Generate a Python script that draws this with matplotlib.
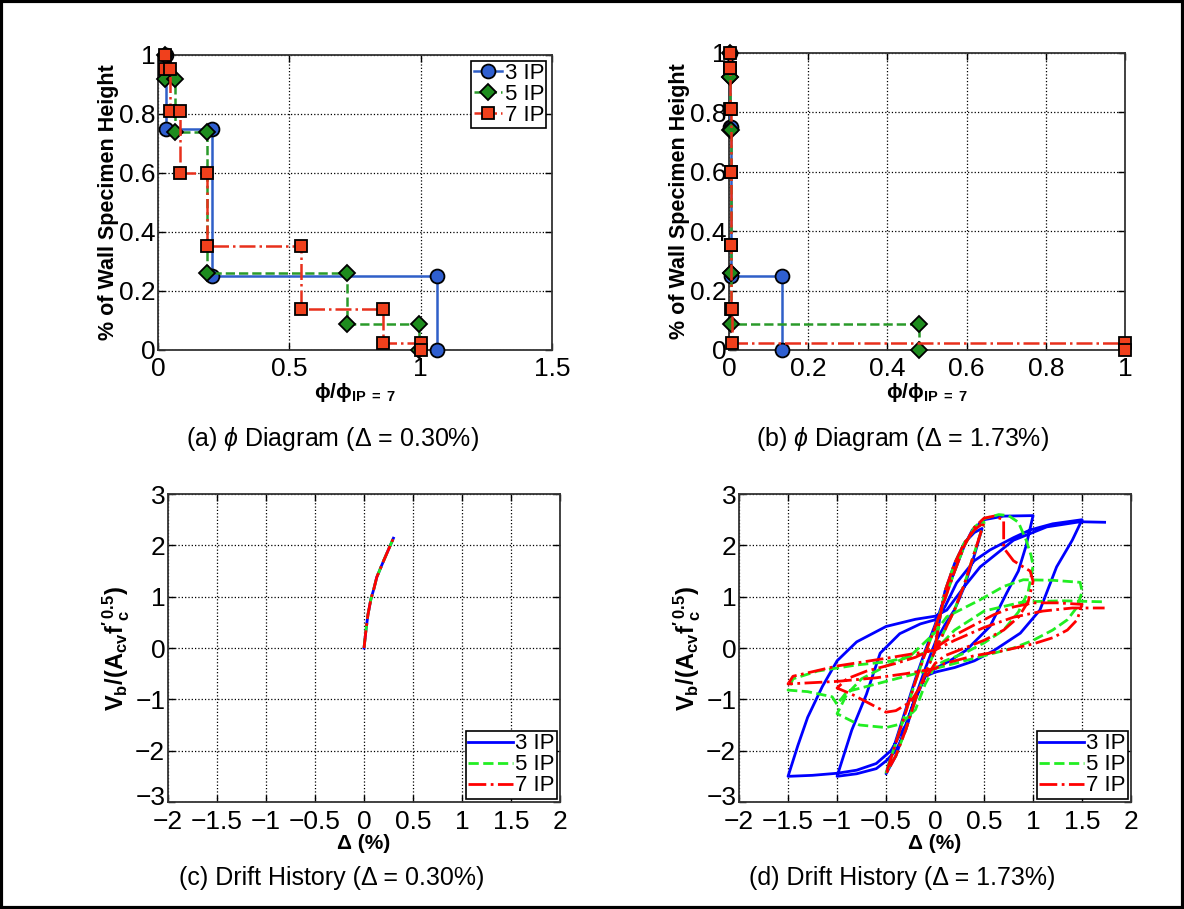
import matplotlib
matplotlib.use('Agg')
import matplotlib.pyplot as plt
import matplotlib.transforms as mtransforms
from matplotlib.patches import Rectangle

plt.rcParams['font.family'] = ['Liberation Sans', 'DejaVu Sans']
plt.rcParams['mathtext.fontset'] = 'custom'
plt.rcParams['mathtext.rm'] = 'Liberation Sans'
plt.rcParams['mathtext.it'] = 'Liberation Sans:italic'
plt.rcParams['mathtext.bf'] = 'Liberation Sans:bold'

labels = ['3 IP', '5 IP', '7 IP']

# curvature profile: segment boundaries (height) and normalised curvature per segment
heights_3 = [1.0, 0.75, 0.25, 0.0]
heights_5 = [1.0, 0.918, 0.74, 0.26, 0.088, 0.0]
heights_7 = [1.0, 0.951, 0.811, 0.599, 0.353, 0.139, 0.023, 0.0]

phi_a_3 = [0.029, 0.204, 1.063]
phi_a_5 = [0.027, 0.065, 0.188, 0.718, 0.995]
phi_a_7 = [0.027, 0.046, 0.084, 0.188, 0.544, 0.858, 1.0]

phi_b_3 = [0.003, 0.004, 0.135]
phi_b_5 = [0.002, 0.003, 0.004, 0.006, 0.48]
phi_b_7 = [0.002, 0.003, 0.004, 0.005, 0.006, 0.008, 1.0]

# drift history (c): monotonic push to 0.30 %
drift_c = [0.0, 0.02, 0.04, 0.07, 0.1, 0.13, 0.2, 0.3]
shear_c = [0.0, 0.35, 0.65, 0.95, 1.15, 1.38, 1.7, 2.14]

# drift history (d): cyclic up to 1.73 %
drift_d_3 = [0, 0.05, 0.1, 0.2, 0.3, 0.4, 0.48,
             0.4, 0.3, 0.2, 0.1, 0, -0.1, -0.2, -0.3, -0.4, -0.5,
             -0.4, -0.3, -0.2, -0.1, 0, 0.1, 0.2, 0.3, 0.38, 0.5, 0.7, 1.0,
             0.93, 0.85, 0.73, 0.56, 0.32, 0.15, 0, -0.1, -0.2, -0.3, -0.4, -0.5, -0.6, -0.8, -1.0,
             -0.85, -0.7, -0.56, -0.36, -0.15, 0, 0.1, 0.22, 0.4, 0.56, 0.8, 0.97, 1.2, 1.5,
             1.4, 1.24, 1.07, 0.87, 0.6, 0.4, 0.2, 0, -0.1, -0.2, -0.3, -0.45, -0.6, -0.8, -1.0, -1.25, -1.5,
             -1.4, -1.3, -1.15, -1.0, -0.8, -0.5, -0.2, 0, 0.12, 0.3, 0.46, 0.8, 1.14, 1.48, 1.73]
shear_d_3 = [0, 0.6, 1.1, 1.65, 2.05, 2.25, 2.33,
             1.8, 1.2, 0.75, 0.45, 0.1, -0.4, -0.95, -1.55, -2.1, -2.45,
             -1.8, -1.2, -0.6, -0.05, 0.45, 1.0, 1.5, 2.0, 2.3, 2.5, 2.57, 2.58,
             2.0, 1.5, 1.07, 0.42, -0.04, -0.25, -0.4, -0.55, -1.0, -1.6, -2.0, -2.2, -2.35, -2.45, -2.5,
             -1.6, -0.9, -0.1, 0.28, 0.47, 0.55, 0.8, 1.27, 1.7, 1.91, 2.15, 2.3, 2.42, 2.5,
             2.1, 1.58, 0.74, 0.29, -0.05, -0.25, -0.38, -0.47, -0.55, -0.95, -1.5, -2.0, -2.25, -2.38, -2.44, -2.48, -2.5,
             -1.9, -1.35, -0.75, -0.25, 0.12, 0.42, 0.56, 0.62, 0.74, 1.2, 1.58, 2.1, 2.36, 2.46, 2.45]

drift_d_5 = [0, 0.05, 0.1, 0.2, 0.3, 0.4, 0.5,
             0.4, 0.3, 0.2, 0.1, 0, -0.1, -0.2, -0.3, -0.4, -0.5,
             -0.4, -0.3, -0.2, -0.1, 0, 0.1, 0.2, 0.3, 0.4, 0.5, 0.65, 0.75, 0.85, 0.93, 0.98, 1.0,
             0.95, 0.85, 0.7, 0.5, 0.3, 0.1, 0, -0.1, -0.2, -0.35, -0.5, -0.77, -1.0,
             -0.9, -0.75, -0.5, -0.25, 0, 0.12, 0.46, 0.7, 0.9, 1.2, 1.48, 1.5,
             1.45, 1.35, 1.2, 1.0, 0.8, 0.5, 0.2, 0, -0.3, -0.6, -0.9, -1.0, -1.05, -1.3, -1.5,
             -1.45, -1.2, -0.8, -0.5, -0.2, 0, 0.2, 0.5, 0.9, 1.3, 1.73]
shear_d_5 = [0, 0.6, 1.1, 1.65, 2.05, 2.3, 2.45,
             1.85, 1.25, 0.75, 0.35, -0.05, -0.5, -1.0, -1.6, -2.1, -2.42,
             -1.85, -1.25, -0.65, -0.1, 0.4, 0.95, 1.5, 2.0, 2.35, 2.52, 2.6, 2.58, 2.45, 2.1, 1.8, 1.6,
             1.1, 0.7, 0.35, 0.1, -0.1, -0.25, -0.35, -0.7, -1.2, -1.48, -1.55, -1.5, -1.28,
             -0.9, -0.6, -0.35, -0.15, 0.3, 0.61, 0.94, 1.2, 1.33, 1.32, 1.28, 1.1,
             0.8, 0.55, 0.35, 0.15, 0.0, -0.15, -0.3, -0.4, -0.55, -0.7, -0.85, -1.1, -0.95, -0.85, -0.82,
             -0.6, -0.45, -0.33, -0.27, -0.15, -0.04, 0.35, 0.72, 0.9, 0.92, 0.9]

drift_d_7 = [0, 0.05, 0.1, 0.2, 0.3, 0.4, 0.5,
             0.4, 0.3, 0.2, 0.1, 0, -0.1, -0.2, -0.3, -0.4, -0.5,
             -0.4, -0.3, -0.2, -0.1, 0, 0.1, 0.2, 0.3, 0.4, 0.5, 0.6, 0.7, 0.7, 0.8, 0.9, 0.97, 1.0,
             0.95, 0.85, 0.7, 0.5, 0.3, 0.1, 0, -0.1, -0.25, -0.4, -0.5, -0.7, -0.85, -1.0,
             -0.9, -0.7, -0.4, -0.2, 0, 0.2, 0.4, 0.6, 0.8, 1.0, 1.25, 1.5,
             1.45, 1.35, 1.2, 1.0, 0.7, 0.4, 0.1, 0, -0.3, -0.6, -1.0, -1.5,
             -1.45, -1.0, -0.5, 0, 0.2, 0.5, 0.8, 1.1, 1.4, 1.73]
shear_d_7 = [0, 0.6, 1.1, 1.65, 2.05, 2.3, 2.45,
             1.85, 1.25, 0.75, 0.35, -0.05, -0.5, -1.0, -1.6, -2.1, -2.45,
             -1.85, -1.25, -0.65, -0.1, 0.4, 0.95, 1.5, 2.0, 2.35, 2.53, 2.57, 2.5, 1.95, 1.7, 1.58, 1.5, 1.3,
             0.9, 0.6, 0.35, 0.15, 0.0, -0.15, -0.3, -0.6, -1.05, -1.22, -1.25, -1.05, -0.9, -0.78,
             -0.6, -0.45, -0.3, -0.18, 0.0, 0.25, 0.45, 0.65, 0.8, 0.88, 0.88, 0.85,
             0.55, 0.35, 0.2, 0.08, -0.05, -0.15, -0.3, -0.4, -0.5, -0.58, -0.65, -0.7,
             -0.55, -0.35, -0.2, -0.04, 0.15, 0.4, 0.6, 0.72, 0.78, 0.78]


def steps(phi, h):
    xs, ys = [], []
    for i in range(len(phi)):
        xs += [phi[i], phi[i]]
        ys += [h[i], h[i + 1]]
    return xs, ys


def matlab_axes(ax, xpad=4):
    ax.grid(True, linestyle=':', color='k', linewidth=0.9)
    ax.tick_params(direction='in', top=True, right=True, labelsize=19, length=5, width=1, pad=2)
    ax.tick_params(axis='x', pad=xpad)
    for s in ax.spines.values():
        s.set_linewidth(1.3)
        s.set_color('#333333')
    ax.set_axisbelow(True)


fig = plt.figure(figsize=(11.84, 9.09), dpi=100)

styles_phi = [
    dict(color='#2f5fc8', ls='-', marker='o', mfc='#2f5fd0', ms=10),
    dict(color='#2a9a2a', ls='--', marker='D', mfc='#1e8c1e', ms=8),
    dict(color='#e8301c', ls='-.', marker='s', mfc='#f0401c', ms=8),
]

ax_a = fig.add_axes([0.1334, 0.6150, 0.3328, 0.3245])
ax_b = fig.add_axes([0.6157, 0.6150, 0.3345, 0.3267])
for ax, phis in [(ax_a, [phi_a_3, phi_a_5, phi_a_7]), (ax_b, [phi_b_3, phi_b_5, phi_b_7])]:
    for k, (ph, hh) in enumerate(zip(phis, [heights_3, heights_5, heights_7])):
        xs, ys = steps(ph, hh)
        st = styles_phi[k]
        ax.plot(xs, ys, color=st['color'], linestyle=st['ls'], linewidth=1.8,
                marker=st['marker'], markerfacecolor=st['mfc'], markeredgecolor='k',
                markeredgewidth=1.3, markersize=st['ms'], clip_on=False,
                label=labels[k], zorder=3 + k)
    ax.set_ylim(0, 1)
    ax.set_yticks([0, 0.2, 0.4, 0.6, 0.8, 1])
    ax.set_yticklabels(['0', '0.2', '0.4', '0.6', '0.8', '1'])
    ax.set_ylabel('% of Wall Specimen Height', fontsize=15.5, fontweight='bold', labelpad=0)
    ax.set_xlabel(r'$\mathbf{\phi/\phi_{IP\ =\ 7}}$', fontsize=15, labelpad=0)
    matlab_axes(ax, xpad=5)

ax_a.set_xlim(0, 1.5)
ax_a.set_xticks([0, 0.5, 1, 1.5])
ax_a.set_xticklabels(['0', '0.5', '1', '1.5'])
ax_a.legend(loc='upper right', fontsize=16, handlelength=1.3, handletextpad=0.1,
            borderpad=0.1, labelspacing=0.0, borderaxespad=0.25, fancybox=False,
            edgecolor='k', framealpha=1).get_frame().set_linewidth(1.2)

ax_b.set_xlim(0, 1)
ax_b.set_xticks([0, 0.2, 0.4, 0.6, 0.8, 1])
ax_b.set_xticklabels(['0', '0.2', '0.4', '0.6', '0.8', '1'])

ax_c = fig.add_axes([0.1419, 0.1177, 0.3311, 0.3388])
ax_d = fig.add_axes([0.6242, 0.1177, 0.3311, 0.3388])

hist_styles = [('#0000ff', '-'), ('#22ee22', '--'), ('#ff0000', '-.')]
for (c, ls), lab in zip(hist_styles, labels):
    ax_c.plot(drift_c, shear_c, color=c, ls=ls, lw=2.0, label=lab)

for (dx, dy), (c, ls), lab in zip([(drift_d_3, shear_d_3), (drift_d_5, shear_d_5), (drift_d_7, shear_d_7)],
                                  hist_styles, labels):
    ax_d.plot(dx, dy, color=c, ls=ls, lw=2.0, label=lab)

for ax in (ax_c, ax_d):
    ax.set_xlim(-2, 2)
    ax.set_ylim(-3, 3)
    ax.set_xticks([-2, -1.5, -1, -0.5, 0, 0.5, 1, 1.5, 2])
    ax.set_xticklabels(['\u22122', '\u22121.5', '\u22121', '\u22120.5', '0', '0.5', '1', '1.5', '2'])
    ax.set_yticks([-3, -2, -1, 0, 1, 2, 3])
    ax.set_yticklabels(['\u22123', '\u22122', '\u22121', '0', '1', '2', '3'])
    ax.set_xlabel('\u0394 (%)', fontsize=15, fontweight='bold', labelpad=0)
    ax.set_ylabel(r"$\mathbf{V_b/(A_{cv}f'^{\,0.5}_c)}$", fontsize=17, labelpad=2)
    matlab_axes(ax, xpad=6)
    # nudge the lowest y label up a little so it clears the x labels
    lowest = ax.get_yticklabels()[0]
    lowest.set_transform(lowest.get_transform() +
                         mtransforms.ScaledTranslation(0, 5 / 72, fig.dpi_scale_trans))
    leg = ax.legend(loc='lower right', fontsize=16, handlelength=2.0, handletextpad=0.1,
                    borderpad=0.1, labelspacing=0.0, borderaxespad=0.15, fancybox=False,
                    edgecolor='k', framealpha=1)
    leg.get_frame().set_linewidth(1.2)

fig.text(0.281, 0.517, r'(a) $\phi$ Diagram (Δ = 0.30%)', fontsize=18, ha='center', va='center')
fig.text(0.762, 0.517, r'(b) $\phi$ Diagram (Δ = 1.73%)', fontsize=18, ha='center', va='center')
fig.text(0.280, 0.034, '(c) Drift History (Δ = 0.30%)', fontsize=18, ha='center', va='center')
fig.text(0.762, 0.034, '(d) Drift History (Δ = 1.73%)', fontsize=18, ha='center', va='center')

fig.patches.append(Rectangle((0.001, 0.001), 0.998, 0.998, transform=fig.transFigure,
                             fill=False, edgecolor='k', linewidth=3))

fig.savefig('out.png', dpi=100)
